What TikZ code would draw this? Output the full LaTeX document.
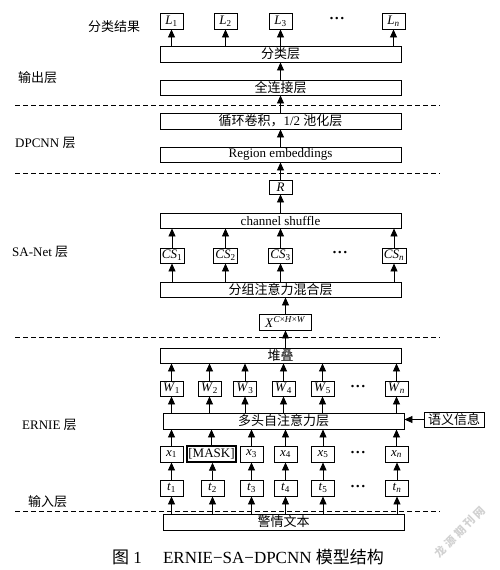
\documentclass[tikz,border=0pt]{standalone}
\usepackage{fontspec}
\setmainfont{Liberation Serif}
\newfontfamily\cjk{Noto Sans CJK SC}
\usetikzlibrary{arrows.meta}
\newcommand\vv[2]{\textit{#1}\textsubscript{#2}}
\newcommand\hdots{\textbf{·\kern0.5pt·\kern0.5pt·}}
\begin{document}
\begin{tikzpicture}[x=1pt,y=-1pt,
  box/.style={draw, line width=0.9pt, fill=white, inner sep=0pt, minimum height=15pt, font=\fontsize{13}{13}\selectfont},
  wide/.style={box, minimum width=241pt},
  small/.style={box, minimum width=23pt},
  arr/.style={-{Triangle[width=7pt,length=8pt]}, line width=0.8pt},
  dashline/.style={line width=0.8pt, dash pattern=on 5pt off 3pt},
  lab/.style={anchor=west, inner sep=0pt, font=\fontsize{13}{13}\selectfont},
  dots/.style={inner sep=0pt, font=\fontsize{15}{15}\selectfont}]
\useasboundingbox (0,0) rectangle (500,570);
% dashed separators
\draw[dashline] (15,105) -- (440,105);
\draw[dashline] (15,173) -- (440,173);
\draw[dashline] (15,337) -- (440,337);
\draw[dashline] (15,511) -- (440,511);
% left labels
\node[lab] (lres) at (88,27) {\cjk 分类结果};
\node[lab] (lout) at (18,78) {\cjk 输出层};
\node[lab] (ldp) at (15,143) {DPCNN {\cjk 层}};
\node[lab] (lsa) at (12,252) {SA-Net {\cjk 层}};
\node[lab] (ler) at (22,425) {ERNIE {\cjk 层}};
\node[lab] (lin) at (28,502) {\cjk 输入层};
% output layer
\node[small, minimum height=16pt] (L1) at (171.5,21) {\vv{L}{1}};
\node[small, minimum height=16pt] (L2) at (225.5,21) {\vv{L}{2}};
\node[small, minimum height=16pt] (L3) at (280.5,21) {\vv{L}{3}};
\node[small, minimum height=16pt] (Ln) at (393.5,21) {\vv{L}{\textit{n}}};
\node[dots] (dL) at (337,20) {\hdots};
\node[wide, minimum height=16pt] (cls) at (280.5,54) {\cjk 分类层};
\node[wide] (fc) at (280.5,87.5) {\cjk 全连接层};
% DPCNN
\node[wide, minimum height=16pt] (conv) at (280.5,121) {{\cjk 循环卷积，}1/2 {\cjk 池化层}};
\node[wide] (reg) at (280.5,154.5) {Region embeddings};
% SA-Net
\node[small, minimum height=14pt] (R) at (280.5,187) {\textit{R}};
\node[wide] (shuf) at (280.5,220.5) {channel shuffle};
\node[small, minimum width=24pt] (CS1) at (172,255.5) {\textit{CS}\textsubscript{1}};
\node[small, minimum width=24pt] (CS2) at (225.5,255.5) {\textit{CS}\textsubscript{2}};
\node[small, minimum width=24pt] (CS3) at (280.5,255.5) {\textit{CS}\textsubscript{3}};
\node[small, minimum width=24pt] (CSn) at (394,255.5) {\textit{CS}\textsubscript{\textit{n}}};
\node[dots] (dCS) at (340,254) {\hdots};
\node[wide] (grp) at (280.5,289.5) {\cjk 分组注意力混合层};
\node[box, minimum width=52pt, minimum height=16pt] (X) at (285.5,322) {\textit{X}\textsuperscript{\textit{C}×\textit{H}×\textit{W}}};
% ERNIE
\node[wide] (stk) at (280.5,355.5) {\cjk 堆叠};
\node[small] (W1) at (171.5,388.5) {\vv{W}{1}};
\node[small] (W2) at (209.5,388.5) {\vv{W}{2}};
\node[small] (W3) at (245,388.5) {\vv{W}{3}};
\node[small] (W4) at (283.5,388.5) {\vv{W}{4}};
\node[small] (W5) at (322.5,388.5) {\vv{W}{5}};
\node[small] (Wn) at (396.5,388.5) {\vv{W}{\textit{n}}};
\node[dots] (dW) at (358,388) {\hdots};
\node[wide, minimum height=16pt] (mha) at (283.5,421) {\cjk 多头自注意力层};
\node[box, minimum width=60pt] (sem) at (454,419.5) {\cjk 语义信息};
\node[small, minimum height=16pt] (x1) at (171.5,454) {\vv{x}{1}};
\node[small, minimum height=16pt, minimum width=49pt, line width=1.4pt] (x2) at (211.5,454) {[MASK]};
\node[small, minimum height=16pt] (x3) at (251.5,454) {\vv{x}{3}};
\node[small, minimum height=16pt] (x4) at (285.5,454) {\vv{x}{4}};
\node[small, minimum height=16pt] (x5) at (323,454) {\vv{x}{5}};
\node[small, minimum height=16pt] (xn) at (396.5,454) {\vv{x}{\textit{n}}};
\node[dots] (dx) at (358,454) {\hdots};
% input
\node[small, minimum height=16pt] (t1) at (171.5,488) {\vv{t}{1}};
\node[small, minimum height=16pt] (t2) at (212.5,488) {\vv{t}{2}};
\node[small, minimum height=16pt] (t3) at (251.5,488) {\vv{t}{3}};
\node[small, minimum height=16pt] (t4) at (285.5,488) {\vv{t}{4}};
\node[small, minimum height=16pt] (t5) at (323,488) {\vv{t}{5}};
\node[small, minimum height=16pt] (tn) at (397,488) {\vv{t}{\textit{n}}};
\node[dots] (dt) at (358,488) {\hdots};
\node[wide, minimum height=16pt] (txt) at (283.5,522) {\cjk 警情文本};
% arrows
\foreach \n in {L1,L2,L3,Ln} \draw[arr] (cls.north -| \n) -- (\n.south);
\draw[arr] (fc.north -| cls) -- (cls.south);
\draw[arr] (conv.north) -- (fc.south);
\draw[arr] (reg.north) -- (conv.south);
\draw[arr] (R.north) -- (reg.south);
\draw[arr] (shuf.north) -- (R.south);
\foreach \n in {CS1,CS2,CS3,CSn} {
  \draw[arr] (\n.north) -- (shuf.south -| \n);
  \draw[arr] (grp.north -| \n) -- (\n.south);
}
\draw[arr] (X.north) -- (grp.south -| X);
\draw[arr] (stk.north -| X) -- (X.south);
\foreach \n in {W1,W2,W3,W4,W5,Wn} {
  \draw[arr] (\n.north) -- (stk.south -| \n);
  \draw[arr] (mha.north -| \n) -- (\n.south);
}
\foreach \n in {x1,x2,x3,x4,x5,xn} \draw[arr] (\n.north) -- (mha.south -| \n);
\foreach \a/\b in {t1/x1,t2/x2,t3/x3,t4/x4,t5/x5,tn/xn} \draw[arr] (\a.north -| \a) -- (\b.south -| \a);
\foreach \n in {t1,t2,t3,t4,t5,tn} \draw[arr] (txt.north -| \n) -- (\n.south);
\draw[arr] (sem.west) -- (sem.west -| mha.east);
% caption
\node[inner sep=0pt, font=\fontsize{17}{17}\selectfont] (cap) at (248,557) {{\cjk 图}\ 1\quad\ ERNIE−SA−DPCNN {\cjk 模型结构}};
% watermark
\node[rotate=45, text=black!18, inner sep=0pt, font=\fontsize{11}{11}\selectfont\bfseries] (wm) at (460,532) {\cjk 龙\hspace{3pt}源\hspace{3pt}期\hspace{3pt}刊\hspace{3pt}网};
\end{tikzpicture}
\end{document}
